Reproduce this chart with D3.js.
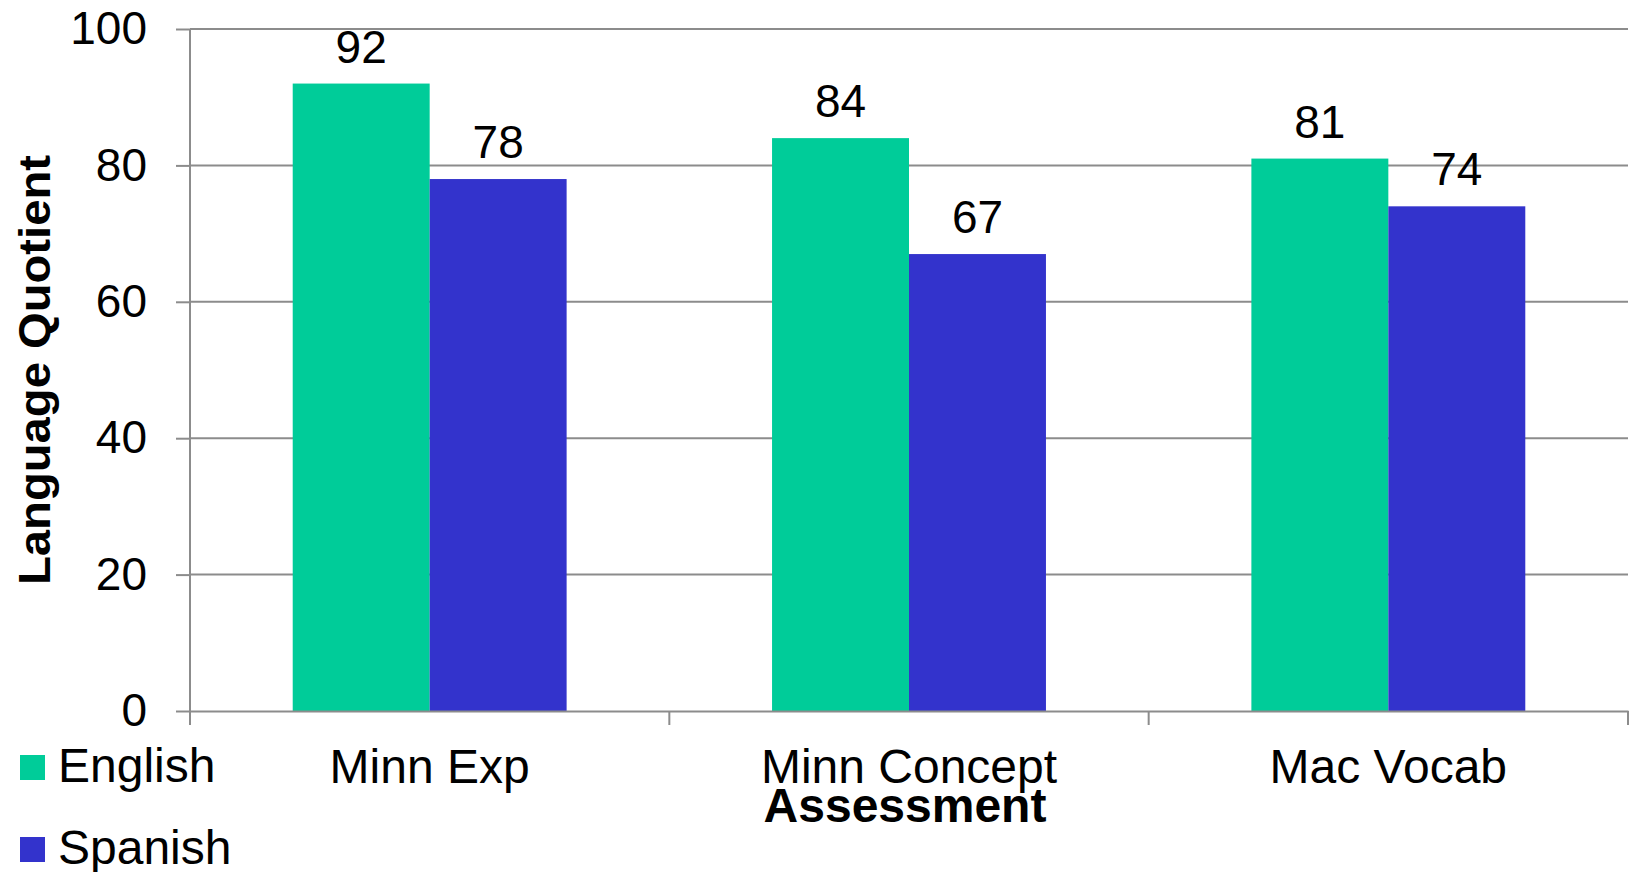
<!DOCTYPE html>
<html>
<head>
<meta charset="utf-8">
<script src="https://cdn.jsdelivr.net/npm/d3@7"></script>
<style>
  body { margin: 0; background: #fff; }
  text { font-family: "Liberation Sans", Arial, sans-serif; fill: #000; }
</style>
</head>
<body>
<div id="chart"></div>
<script>
var categories = ["Minn Exp", "Minn Concept", "Mac Vocab"];
var seriesNames = ["English", "Spanish"];
var englishValues = [92, 84, 81];
var spanishValues = [78, 67, 74];
var yTicks = [0, 20, 40, 60, 80, 100];
var colors = ["#00cc99", "#3333cc"];

var W = 1637, H = 872;
var margin = { top: 29, right: 9, bottom: 161, left: 190 },
    width = W - margin.left - margin.right,
    height = H - margin.top - margin.bottom;

var svg = d3.select("#chart")
    .append("svg")
    .attr("width", W)
    .attr("height", H)
    .append("g")
    .attr("transform", "translate(" + margin.left + "," + margin.top + ")");

var x = d3.scaleBand()
    .domain(categories)
    .range([0, width]);

var x1 = d3.scaleBand()
    .domain(seriesNames)
    .range([0, x.bandwidth()])
    .paddingOuter(0.75);

var y = d3.scaleLinear()
    .domain([0, 100])
    .range([height, 0]);

// gridlines + y axis
var yAxis = svg.append("g")
    .call(d3.axisLeft(y).tickValues(yTicks).tickSize(14).tickPadding(29));
yAxis.select(".domain").remove();
yAxis.selectAll(".tick line").attr("stroke", "#8c8c8c").attr("stroke-width", 2);
yAxis.selectAll(".tick text")
    .style("font-size", "46px")
    .style("font-family", "Liberation Sans, Arial, sans-serif")
    .attr("fill", "#000");

svg.append("g").selectAll("line.grid")
    .data(yTicks.filter(function (d) { return d > 0; }))
    .enter()
    .append("line")
    .attr("x1", 0)
    .attr("x2", width)
    .attr("y1", function (d) { return y(d); })
    .attr("y2", function (d) { return y(d); })
    .attr("stroke", "#8c8c8c")
    .attr("stroke-width", 2);

svg.append("line")
    .attr("x1", 0).attr("x2", 0)
    .attr("y1", 0).attr("y2", height)
    .attr("stroke", "#8c8c8c")
    .attr("stroke-width", 2);

// bars
var data = categories.map(function (c, i) {
    return { cat: c, vals: [englishValues[i], spanishValues[i]] };
});

var groups = svg.selectAll("g.cat")
    .data(data)
    .enter()
    .append("g")
    .attr("transform", function (d) { return "translate(" + x(d.cat) + ",0)"; });

groups.selectAll("rect")
    .data(function (d) { return d.vals.map(function (v, j) { return { s: seriesNames[j], v: v, j: j }; }); })
    .enter()
    .append("rect")
    .attr("x", function (d) { return x1(d.s); })
    .attr("y", function (d) { return y(d.v); })
    .attr("width", x1.bandwidth())
    .attr("height", function (d) { return height - y(d.v); })
    .attr("fill", function (d) { return colors[d.j]; });

groups.selectAll("text.val")
    .data(function (d) { return d.vals.map(function (v, j) { return { s: seriesNames[j], v: v }; }); })
    .enter()
    .append("text")
    .attr("x", function (d) { return x1(d.s) + x1.bandwidth() / 2; })
    .attr("y", function (d) { return y(d.v) - 21; })
    .style("text-anchor", "middle")
    .style("font-size", "46px")
    .text(function (d) { return d.v; });

// x axis
var xAxis = svg.append("g")
    .attr("transform", "translate(0," + height + ")")
    .call(d3.axisBottom(x).tickSize(0).tickPadding(0));
xAxis.select(".domain").attr("stroke", "#8c8c8c").attr("stroke-width", 2);
xAxis.selectAll(".tick text")
    .attr("dy", 0)
    .attr("y", 72)
    .style("font-size", "48px")
    .style("font-family", "Liberation Sans, Arial, sans-serif")
    .attr("fill", "#000");

var boundaries = categories.map(function (c) { return x(c); }).concat([width]);
svg.append("g").selectAll("line")
    .data(boundaries)
    .enter()
    .append("line")
    .attr("x1", function (d) { return d; })
    .attr("x2", function (d) { return d; })
    .attr("y1", height)
    .attr("y2", height + 14)
    .attr("stroke", "#8c8c8c")
    .attr("stroke-width", 2);

// axis titles
svg.append("text")
    .attr("x", width / 2 - 4)
    .attr("y", height + 111)
    .style("text-anchor", "middle")
    .style("font-size", "48px")
    .style("font-weight", "bold")
    .text("Assessment");

svg.append("text")
    .attr("transform", "rotate(-90)")
    .attr("x", -(370 - margin.top))
    .attr("y", 50 - margin.left)
    .style("text-anchor", "middle")
    .style("font-size", "44px")
    .style("font-weight", "bold")
    .attr("textLength", 430)
    .attr("lengthAdjust", "spacingAndGlyphs")
    .text("Language Quotient");

// legend
var legend = svg.selectAll("g.legend")
    .data(seriesNames)
    .enter()
    .append("g")
    .attr("transform", function (d, i) { return "translate(" + (20 - margin.left) + "," + (755 - margin.top + i * 82) + ")"; });

legend.append("rect")
    .attr("width", 25)
    .attr("height", 25)
    .attr("fill", function (d, i) { return colors[i]; });

legend.append("text")
    .attr("x", 38)
    .attr("y", 27)
    .style("font-size", "48px")
    .text(function (d) { return d; });
</script>
</body>
</html>
